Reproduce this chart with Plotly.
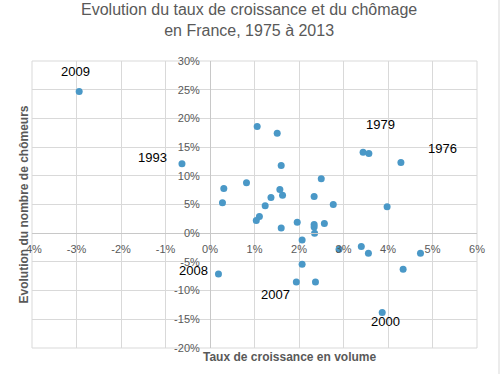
import plotly.graph_objects as go

# Data (growth %, change in unemployed %)
croissance = [1.06, 1.51, 1.60, 2.50, 0.82, 0.31, 1.57, 1.63, 1.37, 2.34,
              0.28, 2.77, 1.24, 1.11, 1.04, 1.96, 2.34, 2.34, 2.57, 1.60,
              2.35, 2.07, 2.07, 1.94, 2.37, 0.19, 2.90, 3.44, 3.57, 4.29,
              3.98, 3.40, 3.56, 4.73, 4.34, 3.87, -2.94, -0.63]
chomage = [18.6, 17.4, 11.8, 9.5, 8.8, 7.8, 7.6, 6.6, 6.2, 6.4,
           5.3, 5.0, 4.8, 2.9, 2.2, 1.9, 1.5, 1.1, 1.7, 0.9,
           0.0, -1.2, -5.4, -8.5, -8.5, -7.1, -2.8, 14.1, 13.9, 12.3,
           4.6, -2.3, -3.5, -3.5, -6.3, -13.8, 24.7, 12.1]
labels = ["", "", "", "", "", "", "", "", "", "",
          "", "", "", "", "", "", "", "", "", "",
          "", "", "", "", "2007", "2008", "", "", "1979", "1976",
          "", "", "", "", "", "2000", "2009", "1993"]

x_ticks = [-4, -3, -2, -1, 0, 1, 2, 3, 4, 5, 6]
y_ticks = [-20, -15, -10, -5, 0, 5, 10, 15, 20, 25, 30]

# label offsets (px) - styling
offsets = {"2009": (-4, 20), "1993": (-29, 6), "1979": (12, 29), "1976": (42, 14),
           "2008": (-25, 3), "2007": (-40, -13), "2000": (3, -9)}

FONT = "Liberation Sans, Arial, sans-serif"
GRID = "#d9d9d9"
TXT = "#595959"

fig = go.Figure()
fig.add_trace(go.Scatter(
    x=croissance, y=chomage, mode="markers",
    marker=dict(size=7, color="#4a98c7"),
    hoverinfo="x+y", showlegend=False))

for xv, yv, lab in zip(croissance, chomage, labels):
    if lab:
        dx, dy = offsets[lab]
        fig.add_annotation(x=xv, y=yv, text=lab, showarrow=False,
                           xshift=dx, yshift=dy,
                           font=dict(family=FONT, size=13, color="#000000"))

fig.update_layout(
    width=501, height=374,
    margin=dict(l=32, r=24, t=61, b=26),
    paper_bgcolor="white", plot_bgcolor="white",
    font=dict(family=FONT, color=TXT),
    xaxis=dict(range=[-4, 6], tickvals=x_ticks,
               ticktext=[f"{v}%" for v in x_ticks],
               showgrid=True, gridcolor=GRID, gridwidth=1,
               zeroline=False, showline=True, linecolor="#c8c8c8",
               anchor="free", position=0.4, ticks="",
               ticklabelstandoff=6,
               tickfont=dict(size=11, color=TXT, family=FONT),
               domain=[0, 1]),
    yaxis=dict(range=[-20, 30], tickvals=y_ticks,
               ticktext=[f"{v}%" for v in y_ticks],
               showgrid=True, gridcolor=GRID, gridwidth=1,
               zeroline=False, showline=True, linecolor="#c8c8c8",
               anchor="free", position=0.4, ticks="",
               ticklabelstandoff=8,
               tickfont=dict(size=11, color=TXT, family=FONT),
               domain=[0, 1]),
)

# plot border
fig.add_shape(type="rect", xref="paper", yref="paper", x0=0, y0=0, x1=1, y1=1,
              line=dict(color=GRID, width=1), layer="below")
# chart outer edge (right)
fig.add_shape(type="line", xref="paper", yref="paper", x0=(499 - 32) / 445, x1=(499 - 32) / 445,
              y0=-26 / 287, y1=1 + 61 / 287,
              line=dict(color="#d9d9d9", width=1))

# Title
fig.add_annotation(xref="paper", yref="paper", x=(249 - 32) / 445, y=(348 - 20) / 287,
                   text="Evolution du taux de croissance et du chômage<br>en France, 1975 à 2013",
                   showarrow=False, xanchor="center", yanchor="middle",
                   font=dict(family=FONT, size=16, color=TXT))
# Axis titles
fig.add_annotation(xref="paper", yref="paper", x=(290 - 32) / 445, y=(348 - 357) / 287,
                   text="<b>Taux de croissance en volume</b>", showarrow=False,
                   xanchor="center", yanchor="middle",
                   font=dict(family=FONT, size=12, color=TXT))
fig.add_annotation(xref="paper", yref="paper", x=(23 - 32) / 445, y=0.5,
                   text="<b>Evolution du nombre de chômeurs</b>", showarrow=False,
                   textangle=-90, xanchor="center", yanchor="middle",
                   font=dict(family=FONT, size=12, color=TXT))

fig.write_html("out.html",
               config={"displayModeBar": False},
               post_script="document.body.style.margin='0';document.body.style.overflow='hidden';")
